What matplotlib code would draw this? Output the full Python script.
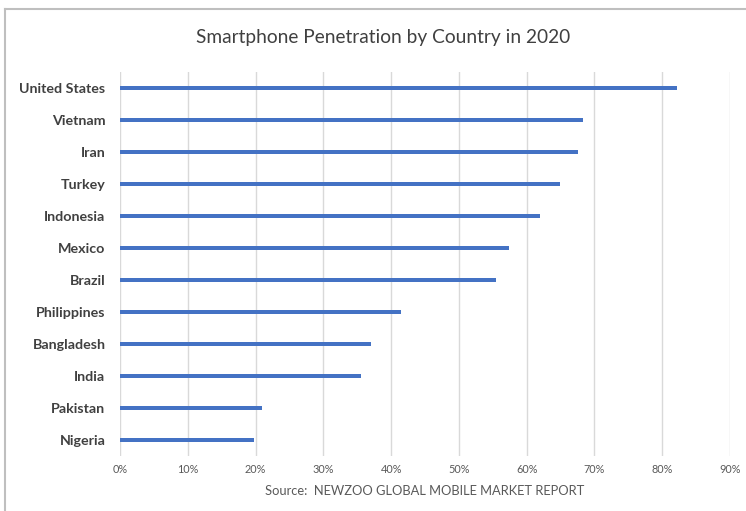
import matplotlib
matplotlib.use("Agg")
import matplotlib.pyplot as plt
from matplotlib.lines import Line2D
from matplotlib.ticker import FuncFormatter

countries = ["United States", "Vietnam", "Iran", "Turkey", "Indonesia", "Mexico",
             "Brazil", "Philippines", "Bangladesh", "India", "Pakistan", "Nigeria"]
penetration = [82.2, 68.3, 67.5, 64.9, 61.9, 57.4, 55.5, 41.4, 37.0, 35.5, 21.0, 19.8]
xticks = [0, 10, 20, 30, 40, 50, 60, 70, 80, 90]

title = "Smartphone Penetration by Country in 2020"
source = "Source:  NEWZOO GLOBAL MOBILE MARKET REPORT"

plt.rcParams['font.family'] = ['Lato', 'DejaVu Sans']

W, H = 746, 511
fig = plt.figure(figsize=(W / 100, H / 100), dpi=100)
fig.patch.set_facecolor("white")

# plot area in pixels
left, right = 120, 730
top, bottom = 72, 456
ax = fig.add_axes([left / W, 1 - bottom / H, (right - left) / W, (bottom - top) / H])

y = list(range(len(countries)))
ax.barh(y, penetration, height=0.13, color="#4472C4", zorder=3)
ax.set_ylim(len(countries) - 0.5, -0.5)
ax.set_xlim(0, 90)
ax.set_xticks(xticks)
ax.xaxis.set_major_formatter(FuncFormatter(lambda v, p: f"{int(v)}%"))
ax.set_yticks(y)
ax.set_yticklabels(countries, fontsize=10.3, fontweight="bold", color="#404040")
ax.tick_params(axis="x", length=0, labelsize=7.8, labelcolor="#595959", pad=6)
ax.tick_params(axis="y", length=0, pad=10.5)
ax.grid(axis="x", color="#d9d9d9", linewidth=1, zorder=0)
for s in ax.spines.values():
    s.set_visible(False)

fig.text(383 / W, 1 - 38 / H, title, ha="center", va="center", fontsize=13.8, color="#404040")
fig.text(425 / W, 1 - 491 / H, source, ha="center", va="center", fontsize=9.3, color="#595959")

# outer frame (top and left lines)
fig.add_artist(Line2D([5 / W, 1], [1 - 9.5 / H, 1 - 9.5 / H], transform=fig.transFigure,
                      color="#bfbfbf", linewidth=1.5))
fig.add_artist(Line2D([5 / W, 5 / W], [0, 1 - 9.5 / H], transform=fig.transFigure,
                      color="#bfbfbf", linewidth=1.5))

fig.savefig("out.png", dpi=100)
